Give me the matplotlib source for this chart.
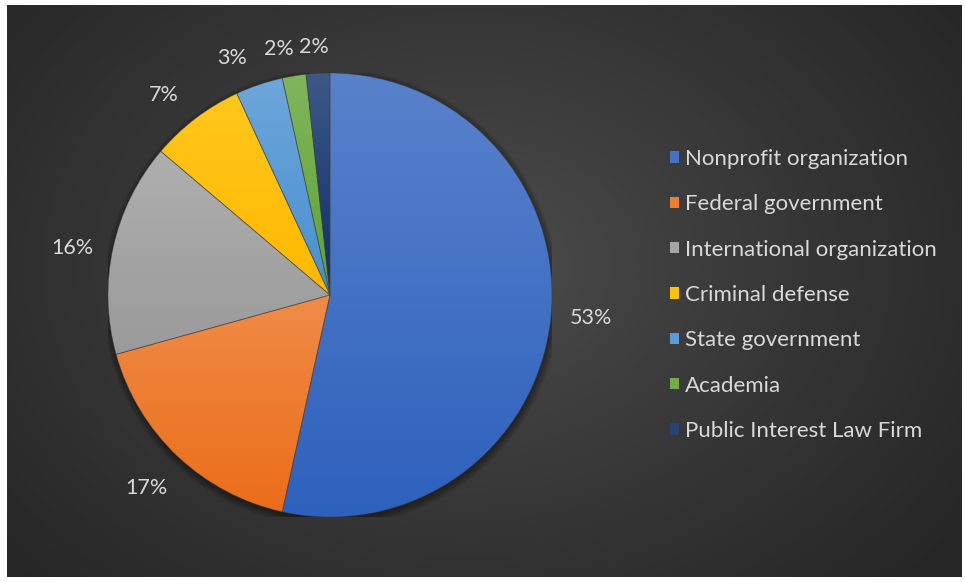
import numpy as np
import matplotlib
matplotlib.use("Agg")
import matplotlib.pyplot as plt
from matplotlib.patches import Patch
from matplotlib.colors import to_rgb

plt.rcParams["font.family"] = ["Lato", "DejaVu Sans"]

categories = [
    "Nonprofit organization",
    "Federal government",
    "International organization",
    "Criminal defense",
    "State government",
    "Academia",
    "Public Interest Law Firm",
]
counts = [31, 10, 9, 4, 2, 1, 1]
colors = ["#4472C4", "#ED7D31", "#A5A5A5", "#FFC000", "#5B9BD5", "#70AD47", "#264478"]

TEXT = "#D9D9D9"
W, H = 965, 582
# where each percentage sits (radius, pie radius = 1, and a small angle nudge in
# degrees) so the tiny slices' labels don't collide, like Excel's best fit
label_dist = [1.18, 1.2, 1.18, 1.17, 1.155, 1.13, 1.12]
label_nudge = [1.2, 0, 2, 2.5, 3.9, 2.4, 0.7]

fig = plt.figure(figsize=(W / 100, H / 100), dpi=100)
fig.patch.set_facecolor("white")

# dark radial background of the chart area
bg = fig.add_axes([7 / W, 5 / H, 955 / W, 572 / H])
yy, xx = np.mgrid[0:572, 0:955]
d = np.sqrt(((xx - 460) / 620.0) ** 2 + ((yy - 260) / 460.0) ** 2)
d = np.clip(d, 0, 1)
c0 = np.array([0x50, 0x50, 0x50]) / 255
c1 = np.array([0x26, 0x26, 0x26]) / 255
img = c0[None, None, :] + (c1 - c0)[None, None, :] * d[..., None] ** 0.8
bg.imshow(img, aspect="auto", interpolation="bilinear")
bg.axis("off")

# pie
R = 222
cx, cy = 330, H - 295
ax = fig.add_axes([(cx - R) / W, (cy - R) / H, 2 * R / W, 2 * R / H])
ax.set_facecolor("none")

# soft shadow under the pie
for k in range(6):
    ax.add_patch(plt.Circle((0.004, -0.012), 1.0 + 0.006 * k, color="black",
                            alpha=0.07, lw=0, zorder=0))

wedges, texts, autotexts = ax.pie(
    counts,
    colors=colors,
    startangle=90,
    counterclock=False,
    autopct=lambda p: f"{p:.0f}%",
    wedgeprops={"linewidth": 0.6, "edgecolor": (0.25, 0.25, 0.25, 0.5)},
    textprops={"color": TEXT, "fontsize": 15.5},
)

for w, t, dist, nudge in zip(wedges, autotexts, label_dist, label_nudge):
    mid = np.deg2rad((w.theta1 + w.theta2) / 2 + nudge)
    t.set_position((dist * np.cos(mid), dist * np.sin(mid)))

# per-slice vertical gradient, lighter at the top of each slice
grad_t = np.linspace(0, 1, 256)[:, None]
for w, c in zip(wedges, colors):
    base = np.array(to_rgb(c))
    top = base + (1 - base) * 0.11
    bot = np.clip(base - (1 - base) * 0.12, 0, 1)
    g = top[None, None, :] + (bot - top)[None, None, :] * grad_t[..., None]
    g = np.repeat(g, 2, axis=1)
    verts = w.get_patch_transform().transform(w.get_path().vertices)
    y0, y1 = verts[:, 1].min(), verts[:, 1].max()
    im = ax.imshow(g, extent=(-1, 1, y0, y1), aspect="auto", zorder=1.5,
                   interpolation="bilinear", origin="upper")
    im.set_clip_path(w)
    w.set_zorder(2)
    w.set_facecolor("none")

ax.set_xlim(-1, 1)
ax.set_ylim(-1, 1)
ax.set_aspect("equal")
ax.axis("off")

# legend
handles = [Patch(facecolor=c, edgecolor="none") for c in colors]
fig.legend(
    handles,
    categories,
    loc="center left",
    bbox_to_anchor=(670 / W, (H - 295) / H),
    frameon=False,
    fontsize=16,
    labelcolor=TEXT,
    borderpad=0,
    borderaxespad=0,
    handlelength=0.42,
    handleheight=0.42,
    handletextpad=0.25,
    labelspacing=1.14,
)

fig.savefig("out.png", dpi=100, facecolor="white")
